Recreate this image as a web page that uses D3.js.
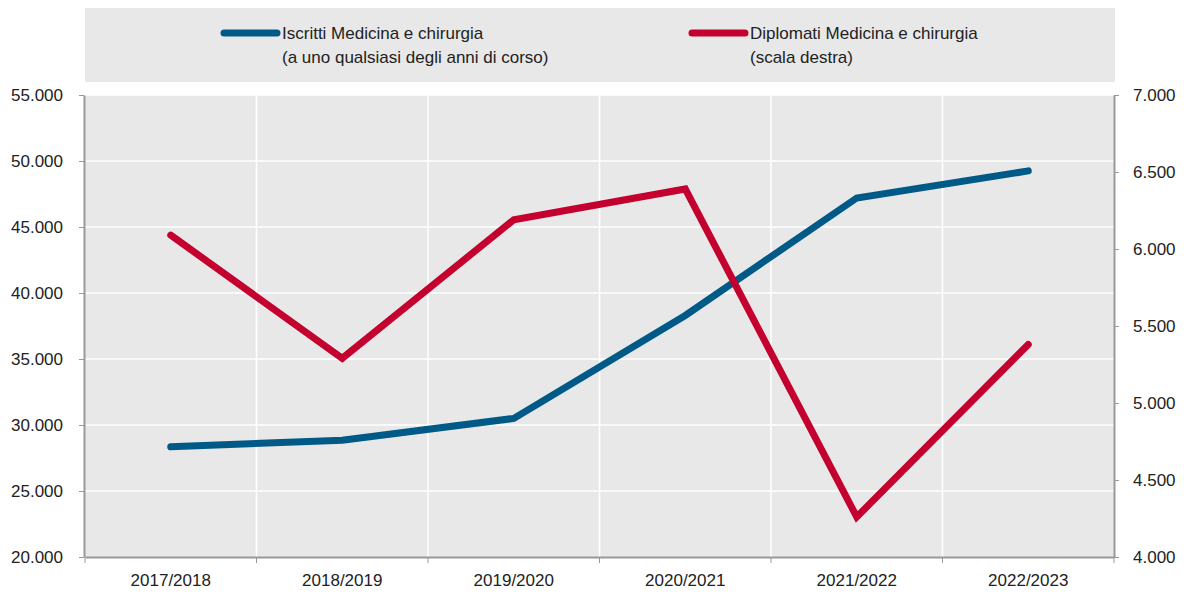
<!DOCTYPE html>
<html>
<head>
<meta charset="utf-8">
<script src="https://cdn.jsdelivr.net/npm/d3@7"></script>
<style>
  body { margin: 0; background: #fff; }
  svg text { font-family: "Liberation Sans", Arial, sans-serif; fill: #222; }
  .axis path, .axis line { stroke: #999; }
</style>
</head>
<body>
<script>
// data
const years = ["2017/2018", "2018/2019", "2019/2020", "2020/2021", "2021/2022", "2022/2023"];
const iscritti = [28350, 28850, 30500, 38300, 47200, 49250];
const diplomati = [6090, 5290, 6190, 6390, 4260, 5380];
const leftTicks = [20000, 25000, 30000, 35000, 40000, 45000, 50000, 55000];
const rightTicks = [4000, 4500, 5000, 5500, 6000, 6500, 7000];

const W = 1184, H = 597;
const plot = { left: 85, right: 1114, top: 95, bottom: 557 };
const fmt = d => d3.format(",")(d).replace(/,/g, ".");

const svg = d3.select("body").append("svg")
  .attr("width", W)
  .attr("height", H);

const x = d3.scaleBand()
  .domain(years)
  .range([plot.left, plot.right]);

const yL = d3.scaleLinear()
  .domain([20000, 55000])
  .range([plot.bottom, plot.top]);

const yR = d3.scaleLinear()
  .domain([4000, 7000])
  .range([plot.bottom, plot.top]);

// legend box
svg.append("rect")
  .attr("x", 85).attr("y", 8)
  .attr("width", 1030).attr("height", 74)
  .attr("fill", "#e8e8e8");

// plot background
svg.append("rect")
  .attr("x", plot.left).attr("y", plot.top)
  .attr("width", plot.right - plot.left)
  .attr("height", plot.bottom - plot.top)
  .attr("fill", "#e8e8e8");

// grid
svg.append("g")
  .selectAll("line")
  .data(leftTicks.slice(1))
  .join("line")
  .attr("x1", plot.left).attr("x2", plot.right)
  .attr("y1", d => yL(d)).attr("y2", d => yL(d))
  .attr("stroke", "#fff").attr("stroke-width", 1.5);

svg.append("g")
  .selectAll("line")
  .data(years.slice(1))
  .join("line")
  .attr("x1", d => x(d)).attr("x2", d => x(d))
  .attr("y1", plot.top).attr("y2", plot.bottom)
  .attr("stroke", "#fff").attr("stroke-width", 1.5);

// axes
const axL = svg.append("g")
  .attr("class", "axis")
  .attr("transform", `translate(${plot.left - 1},0)`)
  .call(d3.axisLeft(yL).tickValues(leftTicks).tickFormat(fmt).tickSize(5).tickSizeOuter(0));

const axR = svg.append("g")
  .attr("class", "axis")
  .attr("transform", `translate(${plot.right},0)`)
  .call(d3.axisRight(yR).tickValues(rightTicks).tickFormat(fmt).tickSize(5).tickSizeOuter(0));

const axB = svg.append("g")
  .attr("class", "axis")
  .attr("transform", `translate(0,${plot.bottom})`)
  .call(d3.axisBottom(x).tickSize(0).tickSizeOuter(0));

axB.selectAll("text").attr("dy", "1.5em");

// category boundary ticks on x axis
axB.selectAll("line.sep")
  .data(years.concat(["end"]))
  .join("line")
  .attr("class", "sep")
  .attr("x1", (d, i) => plot.left + i * x.bandwidth())
  .attr("x2", (d, i) => plot.left + i * x.bandwidth())
  .attr("y1", 0).attr("y2", 6)
  .attr("stroke", "#999");

[axL, axR, axB].forEach(a => {
  a.selectAll("path").attr("stroke-width", 2);
  a.selectAll("text").style("font-size", "17px").attr("fill", "#222");
});
axL.selectAll("text").attr("x", -21);
axR.selectAll("text").attr("x", 19);

// lines
const lineL = d3.line()
  .x((d, i) => x(years[i]) + x.bandwidth() / 2)
  .y(d => yL(d));

const lineR = d3.line()
  .x((d, i) => x(years[i]) + x.bandwidth() / 2)
  .y(d => yR(d));

svg.append("path")
  .datum(iscritti)
  .attr("d", lineL)
  .attr("fill", "none")
  .attr("stroke", "#005a87")
  .attr("stroke-width", 7)
  .attr("stroke-linecap", "round");

svg.append("path")
  .datum(diplomati)
  .attr("d", lineR)
  .attr("fill", "none")
  .attr("stroke", "#c4002f")
  .attr("stroke-width", 7)
  .attr("stroke-linecap", "round");

// legend
const legend = [
  { color: "#005a87", x: 224, lines: ["Iscritti Medicina e chirurgia", "(a uno qualsiasi degli anni di corso)"] },
  { color: "#c4002f", x: 692, lines: ["Diplomati Medicina e chirurgia", "(scala destra)"] }
];

legend.forEach(l => {
  svg.append("line")
    .attr("x1", l.x).attr("x2", l.x + 53)
    .attr("y1", 33).attr("y2", 33)
    .attr("stroke", l.color)
    .attr("stroke-width", 7)
    .attr("stroke-linecap", "round");
  l.lines.forEach((t, i) => {
    svg.append("text")
      .attr("x", l.x + 58)
      .attr("y", 39 + i * 24)
      .style("font-size", "17px")
      .text(t);
  });
});
</script>
</body>
</html>
